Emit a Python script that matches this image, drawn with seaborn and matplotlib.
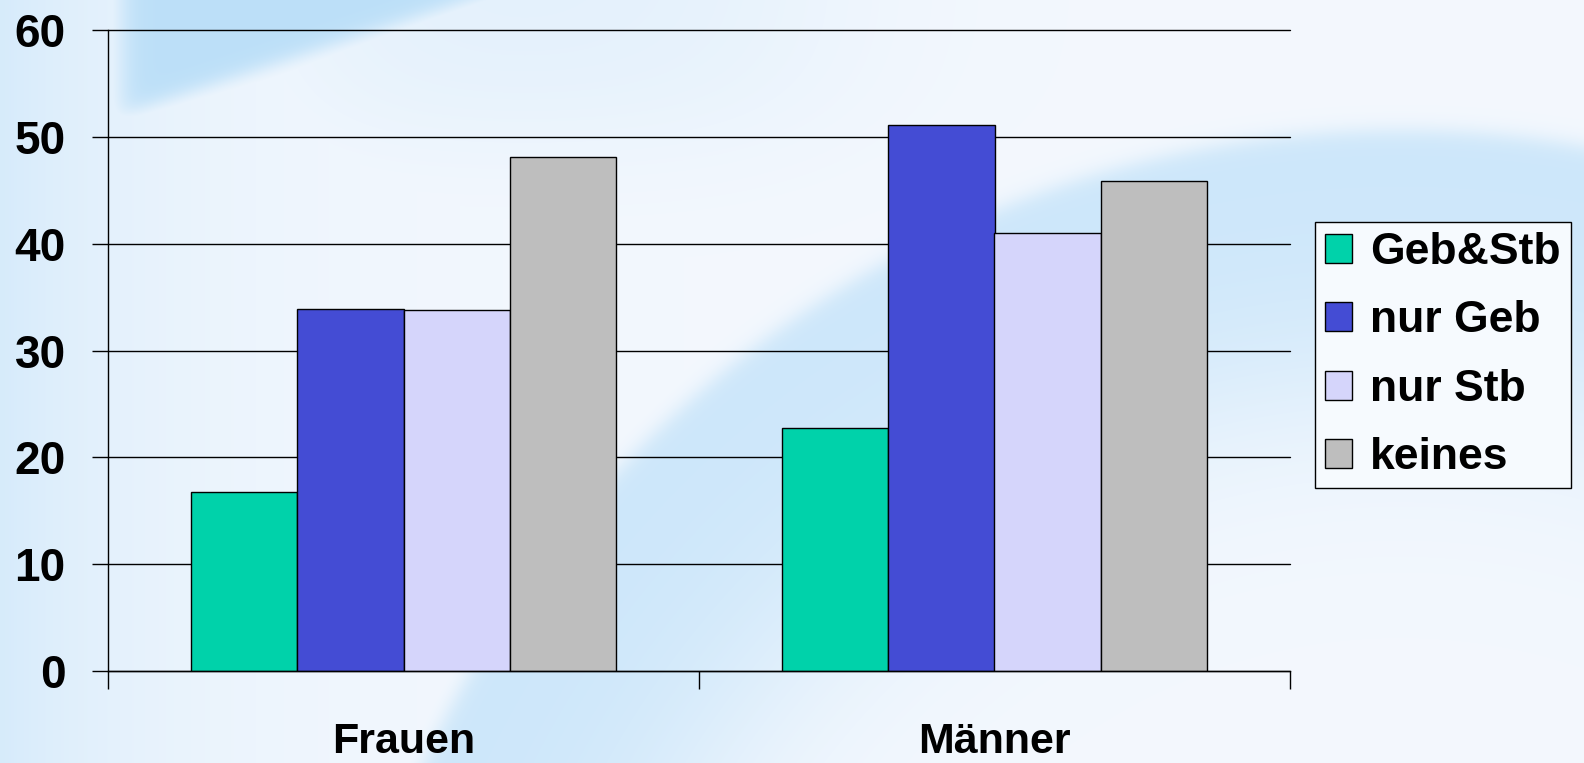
import numpy as np
import pandas as pd
import matplotlib
matplotlib.use('Agg')
import matplotlib.pyplot as plt
import seaborn as sns

# ---- data ----
categories = ['Frauen', 'Männer']
series = ['Geb&Stb', 'nur Geb', 'nur Stb', 'keines']
frauen = [16.8, 33.9, 33.8, 48.1]
maenner = [22.7, 51.1, 41.0, 45.9]
colors = ['#00D2AA', '#444CD4', '#D5D5FB', '#BEBEBE']
yticks = [0, 10, 20, 30, 40, 50, 60]

df = pd.DataFrame({
    'Geschlecht': np.repeat(categories, len(series)),
    'Gruppe': series * len(categories),
    'Wert': frauen + maenner,
})

sns.set_style('white')
plt.rcParams['font.family'] = ['Liberation Sans', 'DejaVu Sans']
plt.rcParams['font.weight'] = 'bold'
plt.rcParams['text.color'] = 'black'
plt.rcParams['xtick.color'] = 'black'
plt.rcParams['ytick.color'] = 'black'

W, H = 1584, 763
fig = plt.figure(figsize=(W / 100, H / 100), dpi=100)

# ---- decorative background ----
bg = fig.add_axes([0, 0, 1, 1])
bg.axis('off')
yy, xx = np.mgrid[0:H, 0:W].astype(float)


def soft(d, w):
    return 1.0 / (1.0 + np.exp(-np.clip(d / w, -50, 50)))


t = 0.45 * np.exp(-xx / 170.0)
tA = 0.85 * soft(xx - 120, 8) * soft((115 - 0.33 * (xx - 120)) - yy, 6)
t = np.maximum(t, tA)
r = np.hypot(xx - 1400, yy - 1200)
tC = 0.6 * soft(1070 - r, 6) * soft(r - 820, 60)
t = np.maximum(t, tC)
tD = 0.25 * soft(130 - yy, 40) * soft(xx - 300, 60) * soft(800 - xx, 80)
t = np.maximum(t, tD)
base = np.array([0.955, 0.972, 0.995])
blue = np.array([0.70, 0.86, 0.97])
img = base[None, None, :] * (1 - t[..., None]) + blue[None, None, :] * t[..., None]
bg.imshow(img, extent=[0, 1, 0, 1], aspect='auto', transform=bg.transAxes)
bg.set_xlim(0, 1)
bg.set_ylim(0, 1)

# ---- main chart ----
ax = fig.add_axes([108 / W, (H - 671) / H, 1182 / W, 641 / H])
ax.patch.set_alpha(0)
sns.barplot(data=df, x='Geschlecht', y='Wert', hue='Gruppe', hue_order=series,
            palette=colors, saturation=1, width=0.72, edgecolor='black',
            linewidth=1, errorbar=None, ax=ax)

handles, labels = ax.get_legend_handles_labels()
if ax.get_legend() is not None:
    ax.get_legend().remove()

ax.set_xlim(-0.5, 1.5)
ax.set_ylim(0, 60)
ax.set_yticks(yticks)
ax.set_xticks([0, 1])
ax.set_xticklabels(categories)
ax.set_xticks([-0.5, 0.5, 1.5], minor=True)
ax.set_xlabel('')
ax.set_ylabel('')

ax.set_axisbelow(True)
ax.yaxis.grid(True, color='black', linewidth=1)
for g in ax.yaxis.get_gridlines():
    g.set_clip_on(False)
ax.xaxis.grid(False)
for s in ['top', 'right']:
    ax.spines[s].set_visible(False)
for s in ['left', 'bottom']:
    ax.spines[s].set_color('black')
    ax.spines[s].set_linewidth(1)

ax.tick_params(axis='y', which='major', length=11.5, width=1, color='black',
               direction='out', pad=19, labelsize=33, left=True, labelcolor='black')
ax.tick_params(axis='x', which='major', length=0, pad=37, labelsize=31, labelcolor='black')
ax.tick_params(axis='x', which='minor', length=13, width=1, color='black',
               direction='out', bottom=True)
for lab in ax.get_xticklabels() + ax.get_yticklabels():
    lab.set_fontweight('bold')
    lab.set_color('black')

leg = fig.legend(handles, labels, loc='upper left',
                 bbox_to_anchor=(1315 / W, 1 - 222 / H),
                 frameon=True, fancybox=False, edgecolor='black',
                 facecolor='#F6FAFE', framealpha=1,
                 prop=dict(family=['Liberation Sans'], weight='bold', size=32),
                 handlelength=0.62, handleheight=0.62, handletextpad=0.4,
                 labelspacing=0.62, borderpad=0.22, borderaxespad=0)
leg.get_frame().set_linewidth(1)
for txt in leg.get_texts():
    txt.set_color('black')

fig.savefig('out.png', dpi=100)
